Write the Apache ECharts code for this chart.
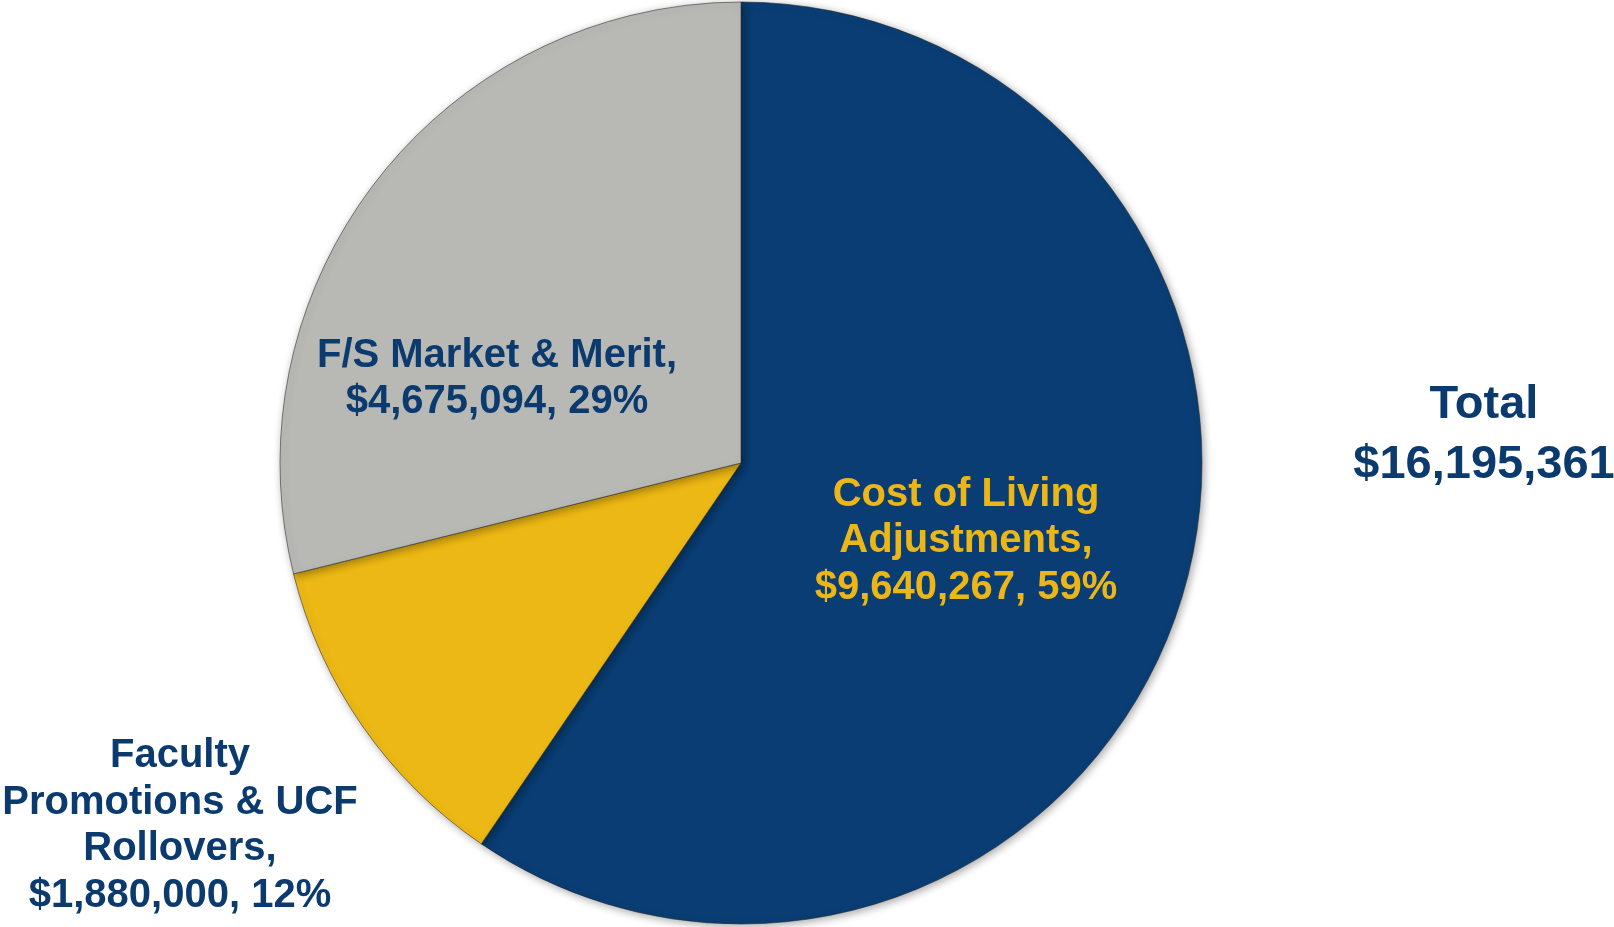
<!DOCTYPE html>
<html>
<head>
<meta charset="utf-8">
<script src="https://cdn.jsdelivr.net/npm/echarts@6/dist/echarts.min.js"></script>
<style>
    html, body { margin: 0; padding: 0; background: #fff; }
    #container { width: 1614px; height: 927px; }
</style>
</head>
<body>
<div id="container"></div>
<script>
    // data
    var names = ['Cost of Living\nAdjustments', 'Faculty\nPromotions & UCF\nRollovers', 'F/S Market & Merit'];
    var values = [9640267, 1880000, 4675094];
    var colors = ['#0a3d73', '#ecb815', '#b8b9b4'];
    var labelColors = ['#ecb618', '#0b3a6e', '#0b3a6e'];
    // label centres in px
    var labelPos = [[966, 541], [180, 826], [497, 379]];

    var total = 0;
    values.forEach(function (v) { total += v; });

    function money(v) {
        return '$' + v.toLocaleString('en-US');
    }

    var pieData = [];
    for (var i = 0; i < names.length; i++) {
        pieData.push({
            name: names[i],
            value: values[i],
            itemStyle: { color: colors[i] },
            label: { color: labelColors[i] }
        });
    }

    var dom = document.getElementById('container');
    var myChart = echarts.init(dom, null, { renderer: 'canvas' });
    var option = {
        backgroundColor: '#ffffff',
        animation: false,
        textStyle: { fontFamily: 'Liberation Sans, Arial, sans-serif' },
        graphic: [{
            type: 'text',
            x: 1484,
            y: 435,
            style: {
                text: 'Total\n' + money(total),
                fill: '#0b3a6e',
                font: 'bold 47px Liberation Sans, Arial, sans-serif',
                lineHeight: 60,
                align: 'center',
                verticalAlign: 'middle'
            }
        }],
        series: [{
            type: 'pie',
            center: [741, 463],
            radius: 461,
            startAngle: 90,
            clockwise: true,
            percentPrecision: 0,
            data: pieData,
            itemStyle: {
                borderColor: 'rgba(40,40,40,0.55)',
                borderWidth: 1,
                shadowBlur: 8,
                shadowOffsetX: 2,
                shadowOffsetY: 2,
                shadowColor: 'rgba(0,0,0,0.35)'
            },
            labelLine: { show: false },
            label: {
                show: true,
                position: 'inside',
                fontSize: 40,
                fontWeight: 'bold',
                lineHeight: 46.5,
                align: 'center',
                formatter: function (p) {
                    return p.name + ',\n' + money(p.value) + ', ' + p.percent + '%';
                }
            },
            labelLayout: function (params) {
                var pos = labelPos[params.dataIndex];
                return { x: pos[0], y: pos[1], align: 'center', verticalAlign: 'middle' };
            },
            emphasis: { disabled: true }
        }]
    };
    myChart.setOption(option);
</script>
</body>
</html>
